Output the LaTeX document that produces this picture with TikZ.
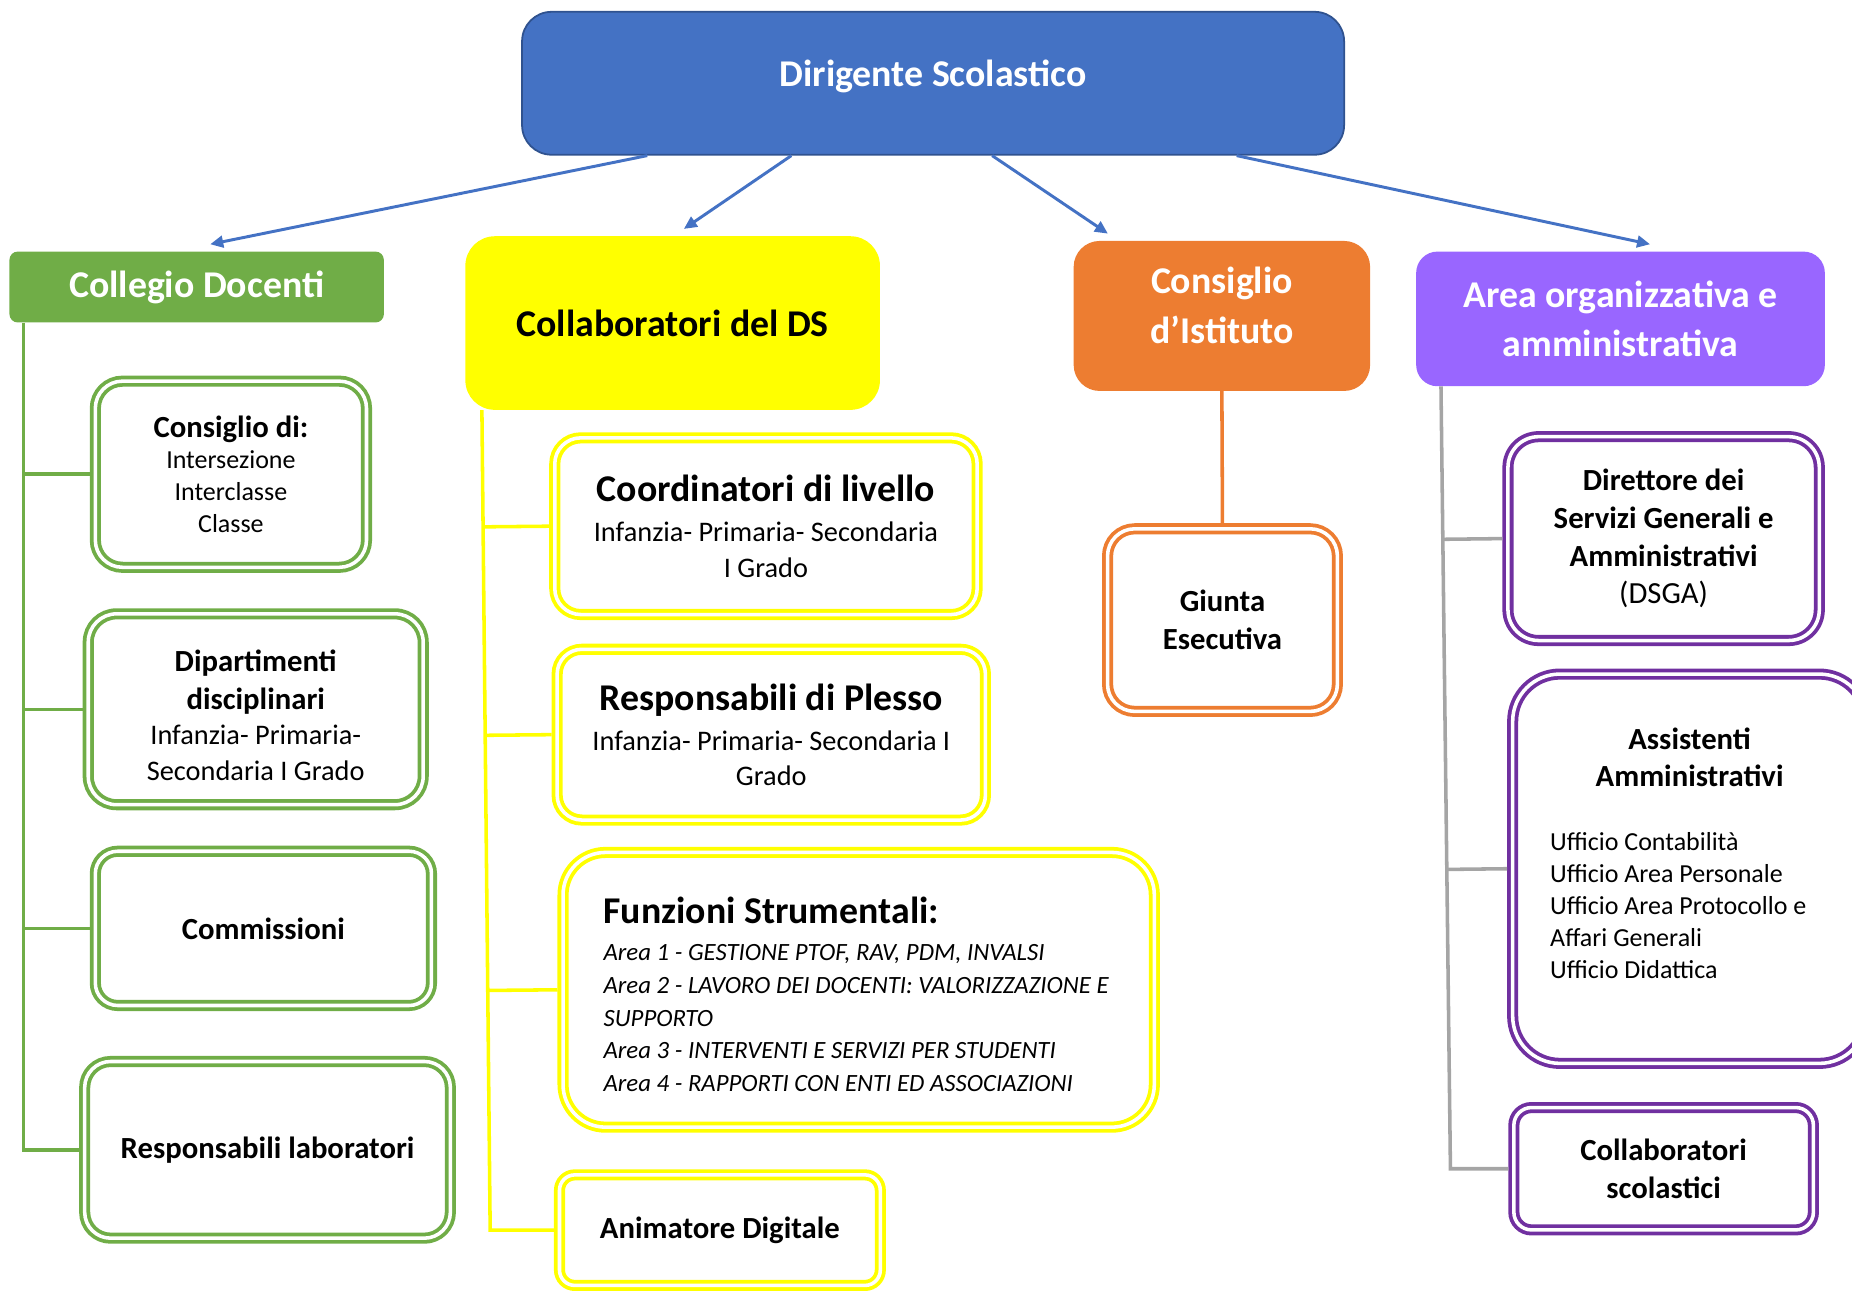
\documentclass[tikz,border=0pt]{standalone}
\usepackage{fontspec}
\setmainfont{Carlito}
\usetikzlibrary{arrows.meta,calc}
\definecolor{dsblue}{HTML}{4472C4}
\definecolor{dsblueline}{HTML}{2F528F}
\definecolor{cdgreen}{HTML}{70AD47}
\definecolor{cdsyellow}{HTML}{FFFF00}
\definecolor{ciorange}{HTML}{ED7D31}
\definecolor{aolilac}{HTML}{9966FF}
\definecolor{aopurple}{HTML}{7030A0}
\definecolor{aogray}{HTML}{A5A5A5}
\newcommand{\dsheadfont}{\fontsize{32}{42}\selectfont\bfseries}
\newcommand{\dstitlefont}{\fontsize{32}{36}\selectfont\bfseries}
\newcommand{\dsboxfont}{\fontsize{26}{32}\selectfont\bfseries}

\begin{document}
\begin{tikzpicture}[x=1pt,y=-1pt,
    head/.style={rounded corners=#1, align=center, font=\dsheadfont, inner sep=0pt},
    sub/.style={double=white, double distance=3pt, line width=3.2pt, fill=white,
      rounded corners=#1, outer sep=4.7pt, align=flush center, inner sep=0pt, font=\dsboxfont},
    arr/.style={dsblue, line width=2.5pt, -{Triangle[length=11pt,width=10pt]}},
    gline/.style={cdgreen, line width=3pt},
    yline/.style={cdsyellow, line width=3pt},
    oline/.style={ciorange, line width=3pt},
    pline/.style={aogray, line width=3pt}]
  \useasboundingbox (0,0) rectangle (1568,1095);

  % top and second level
  \node[head=25pt, fill=dsblue, draw=dsblueline, line width=1.5pt, text=white,
    minimum width=696pt, minimum height=121pt, text height=24pt, text depth=18pt] (ds) at (790,70.5) {Dirigente Scolastico};
  \node[head=7pt, fill=cdgreen, text=white, minimum width=317pt, minimum height=60pt] (cd) at (166.5,243) {Collegio Docenti};
  \node[head=25pt, fill=cdsyellow, minimum width=351pt, minimum height=147pt] (cds) at (569.5,273.5) {Collaboratori del DS};
  \node[head=22pt, fill=ciorange, text=white, minimum width=251pt, minimum height=127pt] (ci) at (1034.5,267.5)
    {\begin{tabular}{@{}c@{}}Consiglio\\d’Istituto\\[13pt]\end{tabular}};
  \node[head=18pt, fill=aolilac, text=white, minimum width=346pt, minimum height=114pt] (aoa) at (1372,270) {Area organizzativa e\\amministrativa};

  % collegio docenti
  \node[sub=23pt, draw=cdgreen, minimum width=229.6pt, minimum height=157.6pt, text width=220pt] (gc1) at (195.5,401.5)
    {{\dsboxfont Consiglio di:\par}\fontsize{22}{27}\selectfont\mdseries Intersezione\\Interclasse\\Classe\par};
  \node[sub=24pt, draw=cdgreen, minimum width=283.6pt, minimum height=161.6pt, text width=270pt] (gc2) at (216.5,600.5)
    {{\dsboxfont\rule{0pt}{28pt}Dipartimenti\\disciplinari\par}\fontsize{24}{30}\selectfont\mdseries Infanzia- Primaria-\\Secondaria I Grado\par};
  \node[sub=19pt, draw=cdgreen, minimum width=284.6pt, minimum height=130.6pt] (gc3) at (223,786) {Commissioni};
  \node[sub=22pt, draw=cdgreen, minimum width=309.6pt, minimum height=149.6pt] (gc4) at (226.5,973.5) {Responsabili laboratori};

  % collaboratori del DS
  \node[sub=22pt, draw=cdsyellow, minimum width=357.6pt, minimum height=149.6pt, text width=340pt] (yc1) at (648.5,445.5)
    {{\dstitlefont Coordinatori di livello\par}\vspace{4pt}\fontsize{24}{30}\selectfont\mdseries Infanzia- Primaria- Secondaria\\I Grado\par};
  \node[sub=21pt, draw=cdsyellow, minimum width=362.6pt, minimum height=144.6pt, text width=345pt] (yc2) at (653,622)
    {{\dstitlefont Responsabili di Plesso\par}\vspace{5pt}\fontsize{24}{29}\selectfont\mdseries Infanzia- Primaria- Secondaria I\\Grado\par};
  \node[sub=36pt, draw=cdsyellow, minimum width=500.6pt, minimum height=232.6pt, text width=440pt, align=flush left] (yc3) at (727,838)
    {\leftskip=4pt{\dstitlefont\rule{0pt}{30pt}Funzioni Strumentali:\par}\vspace{4pt}\fontsize{21}{27.7}\selectfont\mdseries\itshape
     Area 1 - GESTIONE PTOF, RAV, PDM, INVALSI\\Area 2 - LAVORO DEI DOCENTI: VALORIZZAZIONE E\\SUPPORTO\\
     Area 3 - INTERVENTI E SERVIZI PER STUDENTI\\Area 4 - RAPPORTI CON ENTI ED ASSOCIAZIONI\par};
  \node[sub=13pt, draw=cdsyellow, minimum width=271.6pt, minimum height=93.6pt] (yc4) at (609.5,1041.5) {Animatore Digitale};

  % consiglio d'istituto
  \node[sub=23pt, draw=ciorange, minimum width=194.6pt, minimum height=154.6pt] (og) at (1035,525) {Giunta\\Esecutiva};

  % area organizzativa
  \node[sub=26pt, draw=aopurple, minimum width=263.6pt, minimum height=172.6pt] (pc1) at (1408.5,456)
    {Direttore dei\\Servizi Generali e\\Amministrativi\\{\mdseries (DSGA)}};
  \node[sub=40pt, draw=aopurple, minimum width=299.6pt, minimum height=329.6pt, text width=236pt, align=flush left] (pc2) at (1430.5,735.5)
    {{\centering\dsboxfont Assistenti\\Amministrativi\par}\vspace{27pt}\fontsize{22}{27}\selectfont\mdseries
     Ufficio Contabilità\\Ufficio Area Personale\\Ufficio Area Protocollo e\\Affari Generali\\Ufficio Didattica\\\mbox{}\par};
  \node[sub=15pt, draw=aopurple, minimum width=253.6pt, minimum height=103.6pt] (pc3) at (1408.5,989.5) {Collaboratori\\scolastici};

  % arrows from the head
  \foreach \sx/\dst/\dx in {548/cd/178, 670/cds/579, 840/ci/938, 1047/aoa/1397}
    \draw[arr] (ds.south -| \sx,0) -- ($(\dst.north -| \dx,0)+(0,-6)$);

  % green branches
  \coordinate (gtop) at (cd.south -| 20,0);
  \coordinate (gbot) at (gc4.west -| 20,0);
  \draw[gline] (gtop) -- (gbot) -- (gc4.west);
  \foreach \n in {gc1,gc2,gc3}
    \draw[gline] ($(gtop)!(\n.west)!(gbot)$) -- (\n.west);

  % yellow branches
  \coordinate (ytop) at (cds.south -| 408,0);
  \coordinate (ybot) at (yc4.west -| 415,0);
  \draw[yline] (ytop) -- (ybot) -- (yc4.west);
  \foreach \n in {yc1,yc2,yc3}
    \draw[yline] ($(ytop)!(\n.west)!(ybot)$) -- (\n.west);

  \draw[oline] (ci.south) -- (og.north);

  % grey branches
  \coordinate (ptop) at (aoa.south -| 1220,0);
  \coordinate (pbot) at (pc3.west -| 1228,0);
  \draw[pline] (ptop) -- (pbot) -- (pc3.west);
  \foreach \n in {pc1,pc2}
    \draw[pline] ($(ptop)!(\n.west)!(pbot)$) -- (\n.west);
\end{tikzpicture}
\end{document}
